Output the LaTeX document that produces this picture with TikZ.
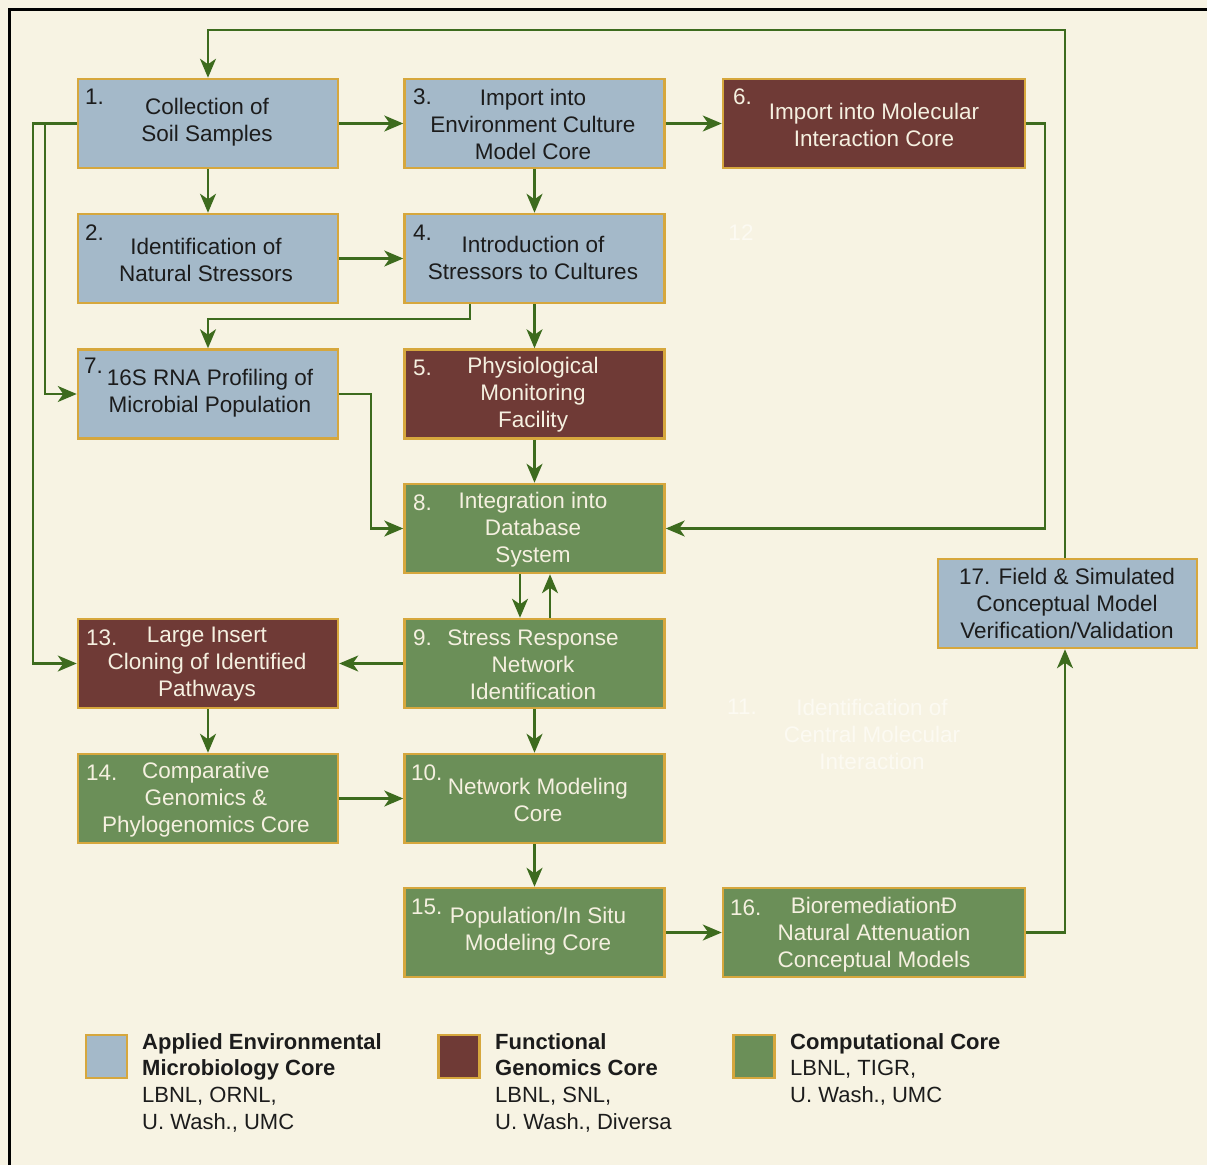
\documentclass[tikz,border=0pt]{standalone}
\usepackage{fontspec}
\setmainfont{Liberation Sans}
\usetikzlibrary{arrows.meta,calc}
\definecolor{bg}{HTML}{F7F3E3}
\definecolor{boxblue}{HTML}{A4B9C9}
\definecolor{boxbrown}{HTML}{6F3A36}
\definecolor{boxgreen}{HTML}{6B8F58}
\definecolor{gold}{HTML}{D6A73D}
\definecolor{lgreen}{HTML}{3D6B1E}
\definecolor{darktxt}{HTML}{1C1C1C}
\definecolor{lighttxt}{HTML}{F5F0E0}
\definecolor{ghost}{HTML}{FCFAF2}
\begin{document}
\begin{tikzpicture}[x=1pt,y=-1pt,
  box/.style={draw=gold, line width=2.5pt, minimum width=260pt, minimum height=89pt, inner sep=0pt},
  bluebox/.style={box, fill=boxblue},
  brownbox/.style={box, fill=boxbrown},
  greenbox/.style={box, fill=boxgreen},
  txt/.style={font=\fontsize{22.5}{27}\selectfont, align=center, inner sep=0pt},
  dtxt/.style={txt, text=darktxt},
  ltxt/.style={txt, text=lighttxt},
  gtxt/.style={txt, text=ghost},
  numd/.style={dtxt, anchor=west},
  numl/.style={ltxt, anchor=west},
  legtxt/.style={font=\fontsize{22}{26.7}\selectfont, align=left, inner sep=0pt, text=darktxt, anchor=north west},
  conn/.style={draw=lgreen, line width=2.2pt, -{Stealth[length=19pt,width=16pt,inset=5.5pt]}}
]
\useasboundingbox (0,0) rectangle (1207,1165);
\fill[bg] (0,0) rectangle (1207,1165);
\draw[black, line width=3pt] (9,1165) -- (9,9) -- (1207,9);

% boxes
\node[bluebox] (b1) at (208,123.5) {};
\node[bluebox] (b2) at (208,258.5) {};
\node[bluebox] (b3) at (534.5,123.5) {};
\node[bluebox] (b4) at (534.5,258.5) {};
\node[brownbox, minimum width=302pt] (b6) at (874,123.5) {};
\node[bluebox] (b7) at (208,394) {};
\node[brownbox] (b5) at (534.5,394) {};
\node[greenbox] (b8) at (534.5,528.5) {};
\node[greenbox] (b9) at (534.5,663.5) {};
\node[brownbox] (b13) at (208,663.5) {};
\node[greenbox] (b14) at (208,798.5) {};
\node[greenbox] (b10) at (534.5,798.5) {};
\node[greenbox] (b15) at (534.5,932.5) {};
\node[greenbox, minimum width=302pt] (b16) at (874,932.5) {};
\node[bluebox, minimum width=259pt] (b17) at (1067.5,603.5) {};

% texts
\node[dtxt] (t1) at (207,122) {Collection of\\Soil Samples};
\node[numd] (n1) at (85,97) {1.};
\node[dtxt] (t2) at (206,259.5) {Identification of\\Natural Stressors};
\node[numd] (n2) at (85,233) {2.};
\node[dtxt] (t3) at (533,124) {Import into\\Environment Culture\\Model Core};
\node[numd] (n3) at (413,97) {3.};
\node[dtxt] (t4) at (533,257.5) {Introduction of\\Stressors to Cultures};
\node[numd] (n4) at (413,233) {4.};
\node[ltxt] (t6) at (874,124.5) {Import into Molecular\\Interaction Core};
\node[numl] (n6) at (733,97) {6.};
\node[dtxt] (t7) at (210,393) {16S RNA Profiling of\\Microbial Population};
\node[numd] (n7) at (84,366) {7.};
\node[ltxt] (t5) at (533,394.5) {Physiological\\Monitoring\\Facility};
\node[numl] (n5) at (413,368) {5.};
\node[ltxt] (t8) at (533,530) {Integration into\\Database\\System};
\node[numl] (n8) at (413,503) {8.};
\node[ltxt] (t9) at (533,664.5) {Stress Response\\Network\\Identification};
\node[numl] (n9) at (413,638) {9.};
\node[ltxt] (t13) at (207,664.5) {Large Insert\\Cloning of Identified\\Pathways};
\node[numl] (n13) at (86,638) {13.};
\node[ltxt] (t14) at (206,799.5) {Comparative\\Genomics \&\\Phylogenomics Core};
\node[numl] (n14) at (86,773) {14.};
\node[ltxt] (t10) at (538,800) {Network Modeling\\Core};
\node[numl] (n10) at (411,773) {10.};
\node[ltxt] (t15) at (538,931) {Population/In Situ\\Modeling Core};
\node[numl] (n15) at (411,907) {15.};
\node[ltxt] (t16) at (874,934.5) {BioremediationÐ\\Natural Attenuation\\Conceptual Models};
\node[numl] (n16) at (730,908) {16.};
\node[dtxt] (t17) at (1067,603.5) {17. Field \& Simulated\\Conceptual Model\\Verification/Validation};

% faint texts
\node[gtxt] (g12) at (741,233) {12};
\node[gtxt] (g11n) at (742,707) {11.};
\node[gtxt] (g11) at (872,734.5) {Identification of\\Central Molecular\\Interaction};

% connectors
\coordinate (j1) at (33,123.5);
\coordinate (j2) at (45,123.5);
\draw[conn] (b1.east) -- (b3.west);
\draw[conn] (b3.east) -- (b6.west);
\draw[conn] (b1.south) -- (b2.north);
\draw[conn] (b3.south) -- (b4.north);
\draw[conn] (b2.east) -- (b4.west);
\draw[conn] ($(b4.south)+(-64.5,0)$) -- ++(0,15) -| (b7.north);
\draw[conn] (b4.south) -- (b5.north);
\draw[conn] (b1.west) -- (j1) |- (b13.west);
\draw[conn] (j2) |- (b7.west);
\draw[conn] (b7.east) -- ++(32,0) |- (b8.west);
\draw[conn] (b5.south) -- (b8.north);
\draw[conn] (b6.east) -- ++(19,0) |- (b8.east);
\draw[conn] ($(b8.south)+(-14.5,0)$) -- ($(b9.north)+(-14.5,0)$);
\draw[conn] ($(b9.north)+(15.5,0)$) -- ($(b8.south)+(15.5,0)$);
\draw[conn] (b9.west) -- (b13.east);
\draw[conn] (b9.south) -- (b10.north);
\draw[conn] (b13.south) -- (b14.north);
\draw[conn] (b14.east) -- (b10.west);
\draw[conn] (b10.south) -- (b15.north);
\draw[conn] (b15.east) -- (b16.west);
\draw[conn] (b16.east) -| ($(b17.south)+(-2.5,0)$);
\draw[conn] ($(b17.north)+(-2.5,0)$) -- ++(0,-528) -| (b1.north);

% legend
\node[bluebox, minimum width=41pt, minimum height=43pt] (lg1) at (106.5,1056.5) {};
\node[brownbox, minimum width=41pt, minimum height=43pt] (lg2) at (459,1056.5) {};
\node[greenbox, minimum width=41pt, minimum height=43pt] (lg3) at (754,1056.5) {};
\node[legtxt] (lt1) at (142,1033) {\textbf{Applied Environmental}\\\textbf{Microbiology Core}\\LBNL, ORNL,\\U. Wash., UMC};
\node[legtxt] (lt2) at (495,1033) {\textbf{Functional}\\\textbf{Genomics Core}\\LBNL, SNL,\\U. Wash., Diversa};
\node[legtxt] (lt3) at (790,1033) {\textbf{Computational Core}\\LBNL, TIGR,\\U. Wash., UMC};
\end{tikzpicture}
\end{document}
